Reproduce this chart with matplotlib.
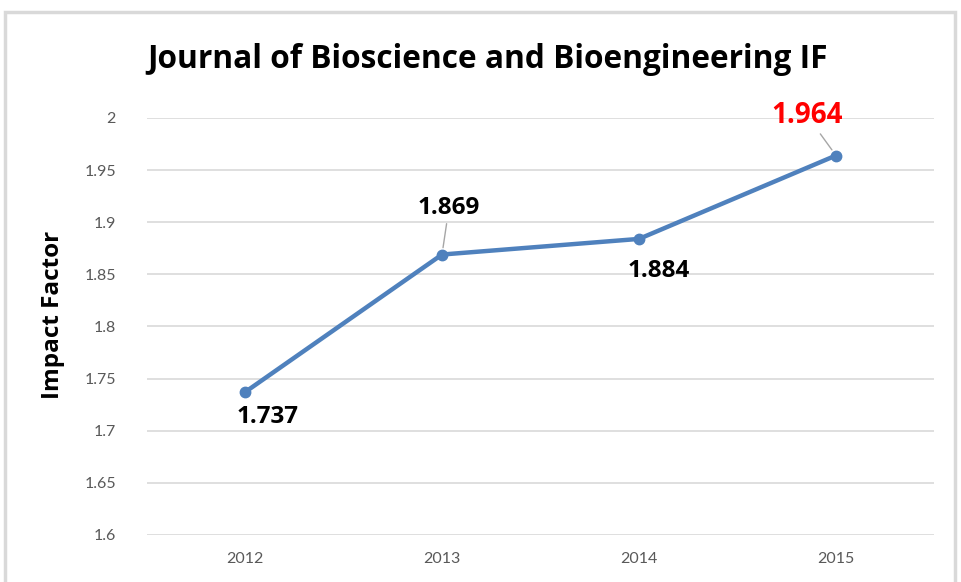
import matplotlib.pyplot as plt
from matplotlib.patches import Rectangle

years = ['2012', '2013', '2014', '2015']
impact = [1.737, 1.869, 1.884, 1.964]
label_colors = ['black', 'black', 'black', 'red']
label_sizes = [17.5, 17.5, 17.5, 20]
# label offsets in pixels from the point, and whether a leader line is drawn
label_offsets = [(23, -25), (7, 47), (20, -32), (-29, 40)]
leaders = [False, True, False, True]

line_color = '#4F81BD'
grid_color = '#D9D9D9'
tick_color = '#595959'

plt.rcParams['font.family'] = ['Lato', 'DejaVu Sans']
bold_font = ['Open Sans', 'DejaVu Sans']

fig = plt.figure(figsize=(9.62, 5.82), dpi=100)
ax = fig.add_axes([0.1523, 0.0808, 0.8191, 0.7165])

x = list(range(len(years)))
ax.plot(x, impact, color=line_color, linewidth=3.2, marker='o', markersize=7.5, zorder=3)

ax.set_xlim(-0.5, len(years) - 0.5)
ax.set_ylim(1.6, 2.0)
ax.set_yticks([1.6 + 0.05 * i for i in range(9)])
ax.set_yticklabels(['1.6', '1.65', '1.7', '1.75', '1.8', '1.85', '1.9', '1.95', '2'])
ax.set_xticks(x)
ax.set_xticklabels(years)
ax.grid(axis='y', color=grid_color, linewidth=1.2)
ax.set_axisbelow(True)
for s in ax.spines.values():
    s.set_visible(False)
ax.tick_params(length=0, colors=tick_color, labelsize=11.5)
ax.tick_params(axis='y', pad=22)
ax.tick_params(axis='x', pad=12)

ax.set_ylabel('Impact Factor', fontsize=17.5, fontweight='bold', family=bold_font)
ax.yaxis.set_label_coords(-0.103, 0.527)

for xi, yi, c, sz, off, lead in zip(x, impact, label_colors, label_sizes, label_offsets, leaders):
    ap = None
    if lead:
        ap = dict(arrowstyle='-', color='#A6A6A6', lw=1, shrinkA=1, shrinkB=5)
    ax.annotate('%.3f' % yi, (xi, yi), xytext=off, textcoords='offset pixels',
                ha='center', va='center', fontsize=sz, fontweight='bold',
                family=bold_font, color=c, arrowprops=ap)

fig.text(0.507, 0.897, 'Journal of Bioscience and Bioengineering IF',
         ha='center', va='center', fontsize=22.8, fontweight='bold', family=bold_font)

# light gray chart frame
fig.patches.append(Rectangle((5 / 962, -0.05), 950 / 962, 1 - 12 / 582 + 0.05,
                             transform=fig.transFigure, fill=False,
                             edgecolor='#D9D9D9', linewidth=2.5))

fig.savefig('out.png', dpi=100)
